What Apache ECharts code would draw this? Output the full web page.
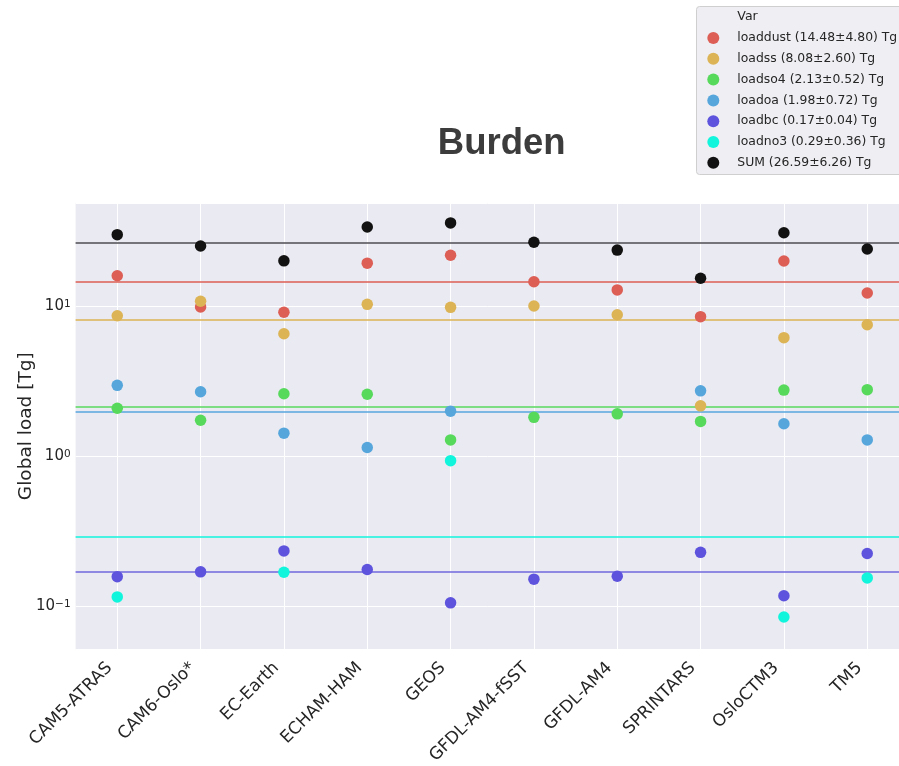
<!DOCTYPE html>
<html>
<head>
<meta charset="utf-8">
<script src="https://cdn.jsdelivr.net/npm/echarts@6/dist/echarts.min.js"></script>
<style>
  html, body { margin: 0; padding: 0; background: #ffffff; }
  #chart { width: 899px; height: 766px; }
</style>
</head>
<body>
<div id="chart"></div>
<script>
// Models on the x axis
const models = ['CAM5-ATRAS', 'CAM6-Oslo*', 'EC-Earth', 'ECHAM-HAM', 'GEOS',
                'GFDL-AM4-fSST', 'GFDL-AM4', 'SPRINTARS', 'OsloCTM3', 'TM5'];

// Global aerosol burden per model [Tg]; null = not provided by the model
const loaddust = [15.9, 9.85, 9.08, 19.3, 21.8, 14.5, 12.8, 8.49, 19.95, 12.2];
const loadss   = [8.61, 10.75, 6.53, 10.26, 9.80, 10.0, 8.75, 2.16, 6.15, 7.50];
const loadso4  = [2.08, 1.73, 2.60, 2.58, 1.28, 1.81, 1.91, 1.70, 2.75, 2.77];
const loadoa   = [2.96, 2.68, 1.42, 1.14, 1.99, null, null, 2.72, 1.64, 1.28];
const loadbc   = [0.157, 0.169, 0.233, 0.175, 0.105, 0.151, 0.158, 0.228, 0.117, 0.224];
const loadno3  = [0.115, null, 0.168, null, 0.931, null, null, null, 0.0845, 0.154];
const loadsum  = [29.9, 25.1, 20.0, 33.6, 35.8, 26.6, 23.6, 15.3, 30.8, 24.0];

// Multi-model mean and spread per variable
const varNames = ['loaddust', 'loadss', 'loadso4', 'loadoa', 'loadbc', 'loadno3', 'SUM'];
const means    = [14.48, 8.08, 2.13, 1.98, 0.17, 0.29, 26.59];
const spreads  = [4.80, 2.60, 0.52, 0.72, 0.04, 0.36, 6.26];

const values = [loaddust, loadss, loadso4, loadoa, loadbc, loadno3, loadsum];
const colors = ['#dc5e55', '#dcb355', '#57d95c', '#56a6dc', '#5d53dd', '#11f5dc', '#121212'];
const lineColors = ['#dc5e55', '#dcb355', '#57d95c', '#56a6dc', '#6f67dc', '#11f5dc', '#4d4d52'];

const font = 'DejaVu Sans, sans-serif';
const textColor = '#262626';

const series = varNames.map((name, i) => ({
  name: `${name} (${means[i].toFixed(2)}±${spreads[i].toFixed(2)}) Tg`,
  type: 'scatter',
  symbol: 'circle',
  symbolSize: 11.5,
  itemStyle: { color: colors[i], opacity: 1 },
  emphasis: { disabled: true },
  data: values[i],
  markLine: {
    silent: true,
    z: 1,
    symbol: 'none',
    label: { show: false },
    lineStyle: { color: lineColors[i], width: 1.6, type: 'solid', opacity: 1 },
    emphasis: { disabled: true },
    data: [{ yAxis: means[i] }]
  },
  z: 3
}));

const chart = echarts.init(document.getElementById('chart'), null, { renderer: 'canvas' });

chart.setOption({
  animation: false,
  backgroundColor: '#ffffff',
  graphic: [
    {
      type: 'text',
      x: 501.7, y: 144,
      style: {
        text: 'Burden',
        font: 'bold 36.5px "Liberation Sans", Arial, sans-serif',
        fill: '#3c3c3c',
        align: 'center',
        verticalAlign: 'middle'
      }
    },
    {
      type: 'rect',
      z: -1,
      shape: { x: 696.5, y: 6.5, width: 220, height: 168, r: 3 },
      style: { fill: '#eeeef3', stroke: '#cfcfcf', lineWidth: 1 }
    },
    {
      type: 'text',
      x: 737.3, y: 17,
      style: {
        text: 'Var',
        font: '12.5px "DejaVu Sans", sans-serif',
        fill: textColor,
        verticalAlign: 'middle'
      }
    }
  ],
  legend: {
    orient: 'vertical',
    left: 707.3,
    top: 32,
    padding: 0,
    itemWidth: 12,
    itemHeight: 12,
    itemGap: 8.8,
    icon: 'circle',
    selectedMode: false,
    textStyle: { fontFamily: font, fontSize: 12.4, color: textColor, padding: [0, 0, 0, 13] }
  },
  grid: {
    left: 75.6,
    top: 203,
    width: 833.3,
    height: 446.5,
    containLabel: false,
    outerBoundsMode: 'none',
    show: true,
    backgroundColor: '#eaeaf2',
    borderWidth: 0
  },
  xAxis: {
    type: 'category',
    data: models,
    axisLine: { show: false },
    axisTick: { show: false, alignWithLabel: true },
    splitLine: { show: true, alignWithLabel: true, lineStyle: { color: '#ffffff', width: 1 } },
    axisLabel: {
      interval: 0,
      rotate: 45,
      margin: 8,
      padding: [0, 11, 0, 0],
      fontFamily: font,
      fontSize: 17,
      color: textColor
    }
  },
  yAxis: {
    type: 'log',
    logBase: 10,
    min: 0.0513,
    max: 48.6,
    name: 'Global load [Tg]',
    nameLocation: 'middle',
    nameGap: 40,
    nameMoveOverlap: false,
    nameTextStyle: { fontFamily: font, fontSize: 18.5, color: textColor },
    axisLine: { show: false },
    axisTick: { show: false },
    minorTick: { show: false },
    minorSplitLine: { show: false },
    splitLine: { show: true, lineStyle: { color: '#ffffff', width: 1 } },
    axisLabel: {
      showMinLabel: false,
      showMaxLabel: false,
      margin: 5,
      fontFamily: font,
      fontSize: 15,
      color: textColor,
      formatter: function (v) {
        const lg = Math.log10(v);
        const e = Math.round(lg);
        if (Math.abs(lg - e) > 1e-6) return '';
        return '10{s|' + (e < 0 ? '\u2212' + (-e) : e) + '}';
      },
      rich: {
        s: { fontFamily: font, fontSize: 10.5, color: textColor, verticalAlign: 'top', lineHeight: 10 }
      }
    }
  },
  series: series
});
</script>
</body>
</html>
